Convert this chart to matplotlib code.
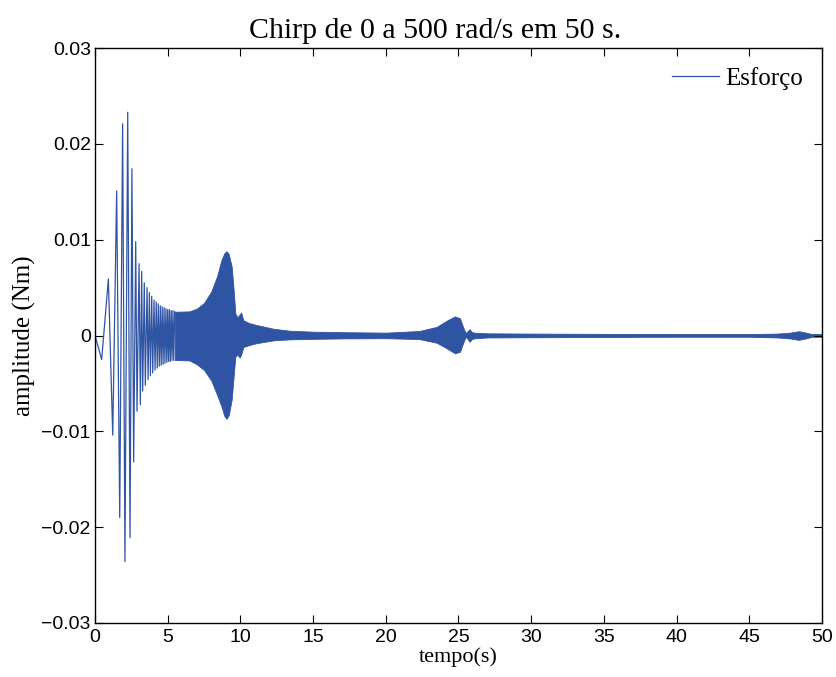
import matplotlib
matplotlib.use('Agg')
import matplotlib.pyplot as plt
import numpy as np

# early oscillation: alternating peaks/troughs (s, Nm)
osc_t = [0.0, 0.46, 0.92, 1.22, 1.49, 1.70, 1.90, 2.06, 2.25, 2.41, 2.54, 2.66, 2.80, 2.89,
         3.03, 3.12, 3.21, 3.28, 3.39, 3.46, 3.58, 3.65, 3.74, 3.81, 3.90, 3.97, 4.06, 4.13,
         4.21, 4.28, 4.35, 4.42, 4.49, 4.55, 4.62, 4.68, 4.75, 4.81, 4.88, 4.94, 5.00, 5.06,
         5.12, 5.18, 5.24, 5.30, 5.36, 5.42, 5.48]
osc_v = [0.0, -0.0025, 0.0059, -0.0104, 0.0151, -0.0190, 0.0221, -0.0236, 0.0233, -0.0211,
         0.0174, -0.0132, 0.0098, -0.0079, 0.0075, -0.0072, 0.0067, -0.0058, 0.0055, -0.0052,
         0.0050, -0.0046, 0.0045, -0.0042, 0.0041, -0.0039, 0.0037, -0.0036, 0.0035, -0.0034,
         0.0033, -0.0032, 0.0031, -0.0031, 0.0030, -0.0030, 0.0029, -0.0029, 0.0028, -0.0028,
         0.0027, -0.0027, 0.0027, -0.0027, 0.0026, -0.0026, 0.0026, -0.0026, 0.0025]

# envelope of the dense part (upper / lower)
env_t = [5.5, 6.5, 7.0, 7.5, 8.0, 8.4, 8.7, 8.9, 9.05, 9.2, 9.4, 9.55, 9.65, 9.8, 9.95, 10.05,
         10.2, 10.6, 11.1, 12.3, 13.4, 15, 17, 20, 22.3, 23.5, 24.2, 24.75, 25.1, 25.35, 25.5,
         25.65, 25.77, 25.9, 26.05, 27, 30, 35, 40, 45, 46.9, 47.8, 48.4, 48.9, 49.3, 50]
env_hi = [0.00248, 0.00252, 0.0028, 0.0034, 0.0046, 0.0062, 0.0079, 0.0086, 0.0088, 0.0085,
          0.0072, 0.0045, 0.0023, 0.0019, 0.0022, 0.0024, 0.0016, 0.0013, 0.0011, 0.0007,
          0.0005, 0.0004, 0.00035, 0.0003, 0.00047, 0.0009, 0.00155, 0.0020, 0.0018, 0.00075,
          0.00025, 0.0005, 0.00065, 0.0004, 0.0003, 0.00023, 0.0002, 0.00017, 0.00015, 0.00015,
          0.0002, 0.0003, 0.00045, 0.0003, 0.00015, 0.00015]
env_lo = [-0.00256, -0.0026, -0.0030, -0.0036, -0.0047, -0.0062, -0.0074, -0.0084, -0.0087,
          -0.0083, -0.0067, -0.0040, -0.0022, -0.0020, -0.0023, -0.0020, -0.0012, -0.0010,
          -0.0008, -0.0005, -0.0004, -0.00035, -0.0003, -0.00028, -0.00037, -0.00075, -0.00134,
          -0.00186, -0.0017, -0.00065, -0.00012, -0.0004, -0.00065, -0.0004, -0.0003, -0.0002,
          -0.00018, -0.00015, -0.00013, -0.00013, -0.0002, -0.0003, -0.00045, -0.0003, -0.00013,
          -0.00013]

xticks = [0, 5, 10, 15, 20, 25, 30, 35, 40, 45, 50]
yticks = [-0.03, -0.02, -0.01, 0, 0.01, 0.02, 0.03]
ytick_labels = ['\u22120.03', '\u22120.02', '\u22120.01', '0', '0.01', '0.02', '0.03']

color = '#2F54A3'
serif = ['Liberation Serif', 'DejaVu Serif']
plt.rcParams['font.family'] = ['Liberation Sans Narrow', 'Liberation Sans', 'DejaVu Sans']

fig = plt.figure(figsize=(8.37, 6.77), dpi=100)
ax = fig.add_axes([0.1135, 0.0798, 0.8685, 0.8492])

line, = ax.plot(osc_t, osc_v, color=color, lw=0.9, label='Esforço')
ax.fill_between(env_t, env_lo, env_hi, color=color, lw=0.6, edgecolor=color)

ax.set_xlim(0, 50)
ax.set_ylim(-0.03, 0.03)
ax.set_xticks(xticks)
ax.set_yticks(yticks)
ax.set_yticklabels(ytick_labels)
ax.tick_params(direction='in', top=True, right=True, length=6, width=0.8,
               labelsize=14, pad=3)
ax.tick_params(axis='x', pad=4)
for s in ax.spines.values():
    s.set_linewidth(1.0)

ax.set_title('Chirp de 0 a 500 rad/s em 50 s.', family=serif, fontsize=21.5, pad=7, x=0.468)
ax.set_xlabel('tempo(s)', family=serif, fontsize=16, labelpad=1)
ax.set_ylabel('amplitude (Nm)', family=serif, fontsize=18, labelpad=4)

leg = ax.legend(handles=[line], loc='upper right', frameon=False,
                prop={'family': serif, 'size': 18}, handlelength=1.9,
                handletextpad=0.25, borderaxespad=0.35)

fig.savefig('out.png', dpi=100)
